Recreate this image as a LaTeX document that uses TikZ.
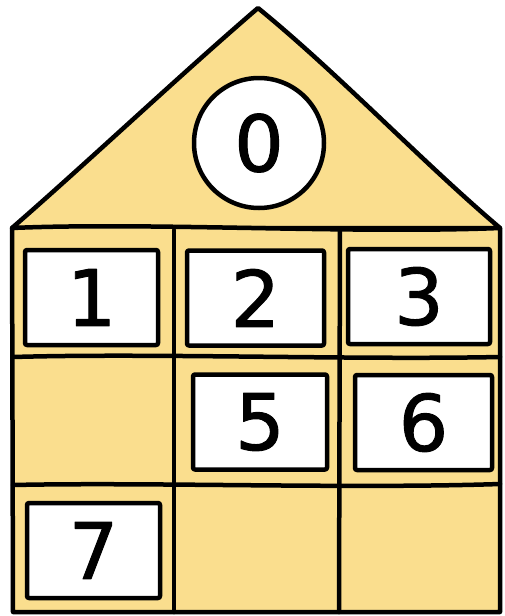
\documentclass[tikz,border=0pt]{standalone}
\usepackage{fontspec}
\setmainfont{DejaVu Sans}[FakeBold=1.2]
\usetikzlibrary{positioning}
\definecolor{HouseYellow}{RGB}{250,222,142}

\begin{document}
\begin{tikzpicture}[x=1pt, y=-1pt, line width=4.5pt, line join=round, line cap=round,
        numbox/.style={draw, fill=white, rounded corners=2pt, minimum height=95pt, inner sep=0pt,
            font=\fontsize{78}{78}\selectfont}]
        \useasboundingbox (0,0) rectangle (504,616);

        % Draw roof
        \draw[fill=HouseYellow] (12,228) .. controls (90,160) and (180,75) .. (258,8)
            .. controls (340,75) and (420,160) .. (500,228) -- cycle;

        % Draw body
        \draw[fill=HouseYellow] (12,228) .. controls (150,222) and (350,234) .. (500,228)
            -- (500,612) -- (13,612) -- cycle;
        \draw (174,230) -- (174,612);
        \draw (340,229) -- (339,612);
        \draw (13,357) .. controls (150,353) and (350,360) .. (500,357);
        \draw (13,485) .. controls (150,482) and (350,489) .. (500,484);

        % Number in the roof
        \node[numbox, circle, minimum size=130pt] (c0) at (259,143) {0};

        % Number boxes
        \node[numbox, minimum width=133pt] (b1) at (91.5,297.5) {1};
        \node[numbox, minimum width=137pt] (b2) at (255.5,298) {2};
        \node[numbox, minimum width=142pt] (b3) at (419,296.5) {3};
        \node[numbox, minimum width=134pt] (b5) at (260,422) {5};
        \node[numbox, minimum width=137pt] (b6) at (423.5,422.5) {6};
        \node[numbox, minimum width=133pt] (b7) at (93.5,550.5) {7};
    \end{tikzpicture}
\end{document}
